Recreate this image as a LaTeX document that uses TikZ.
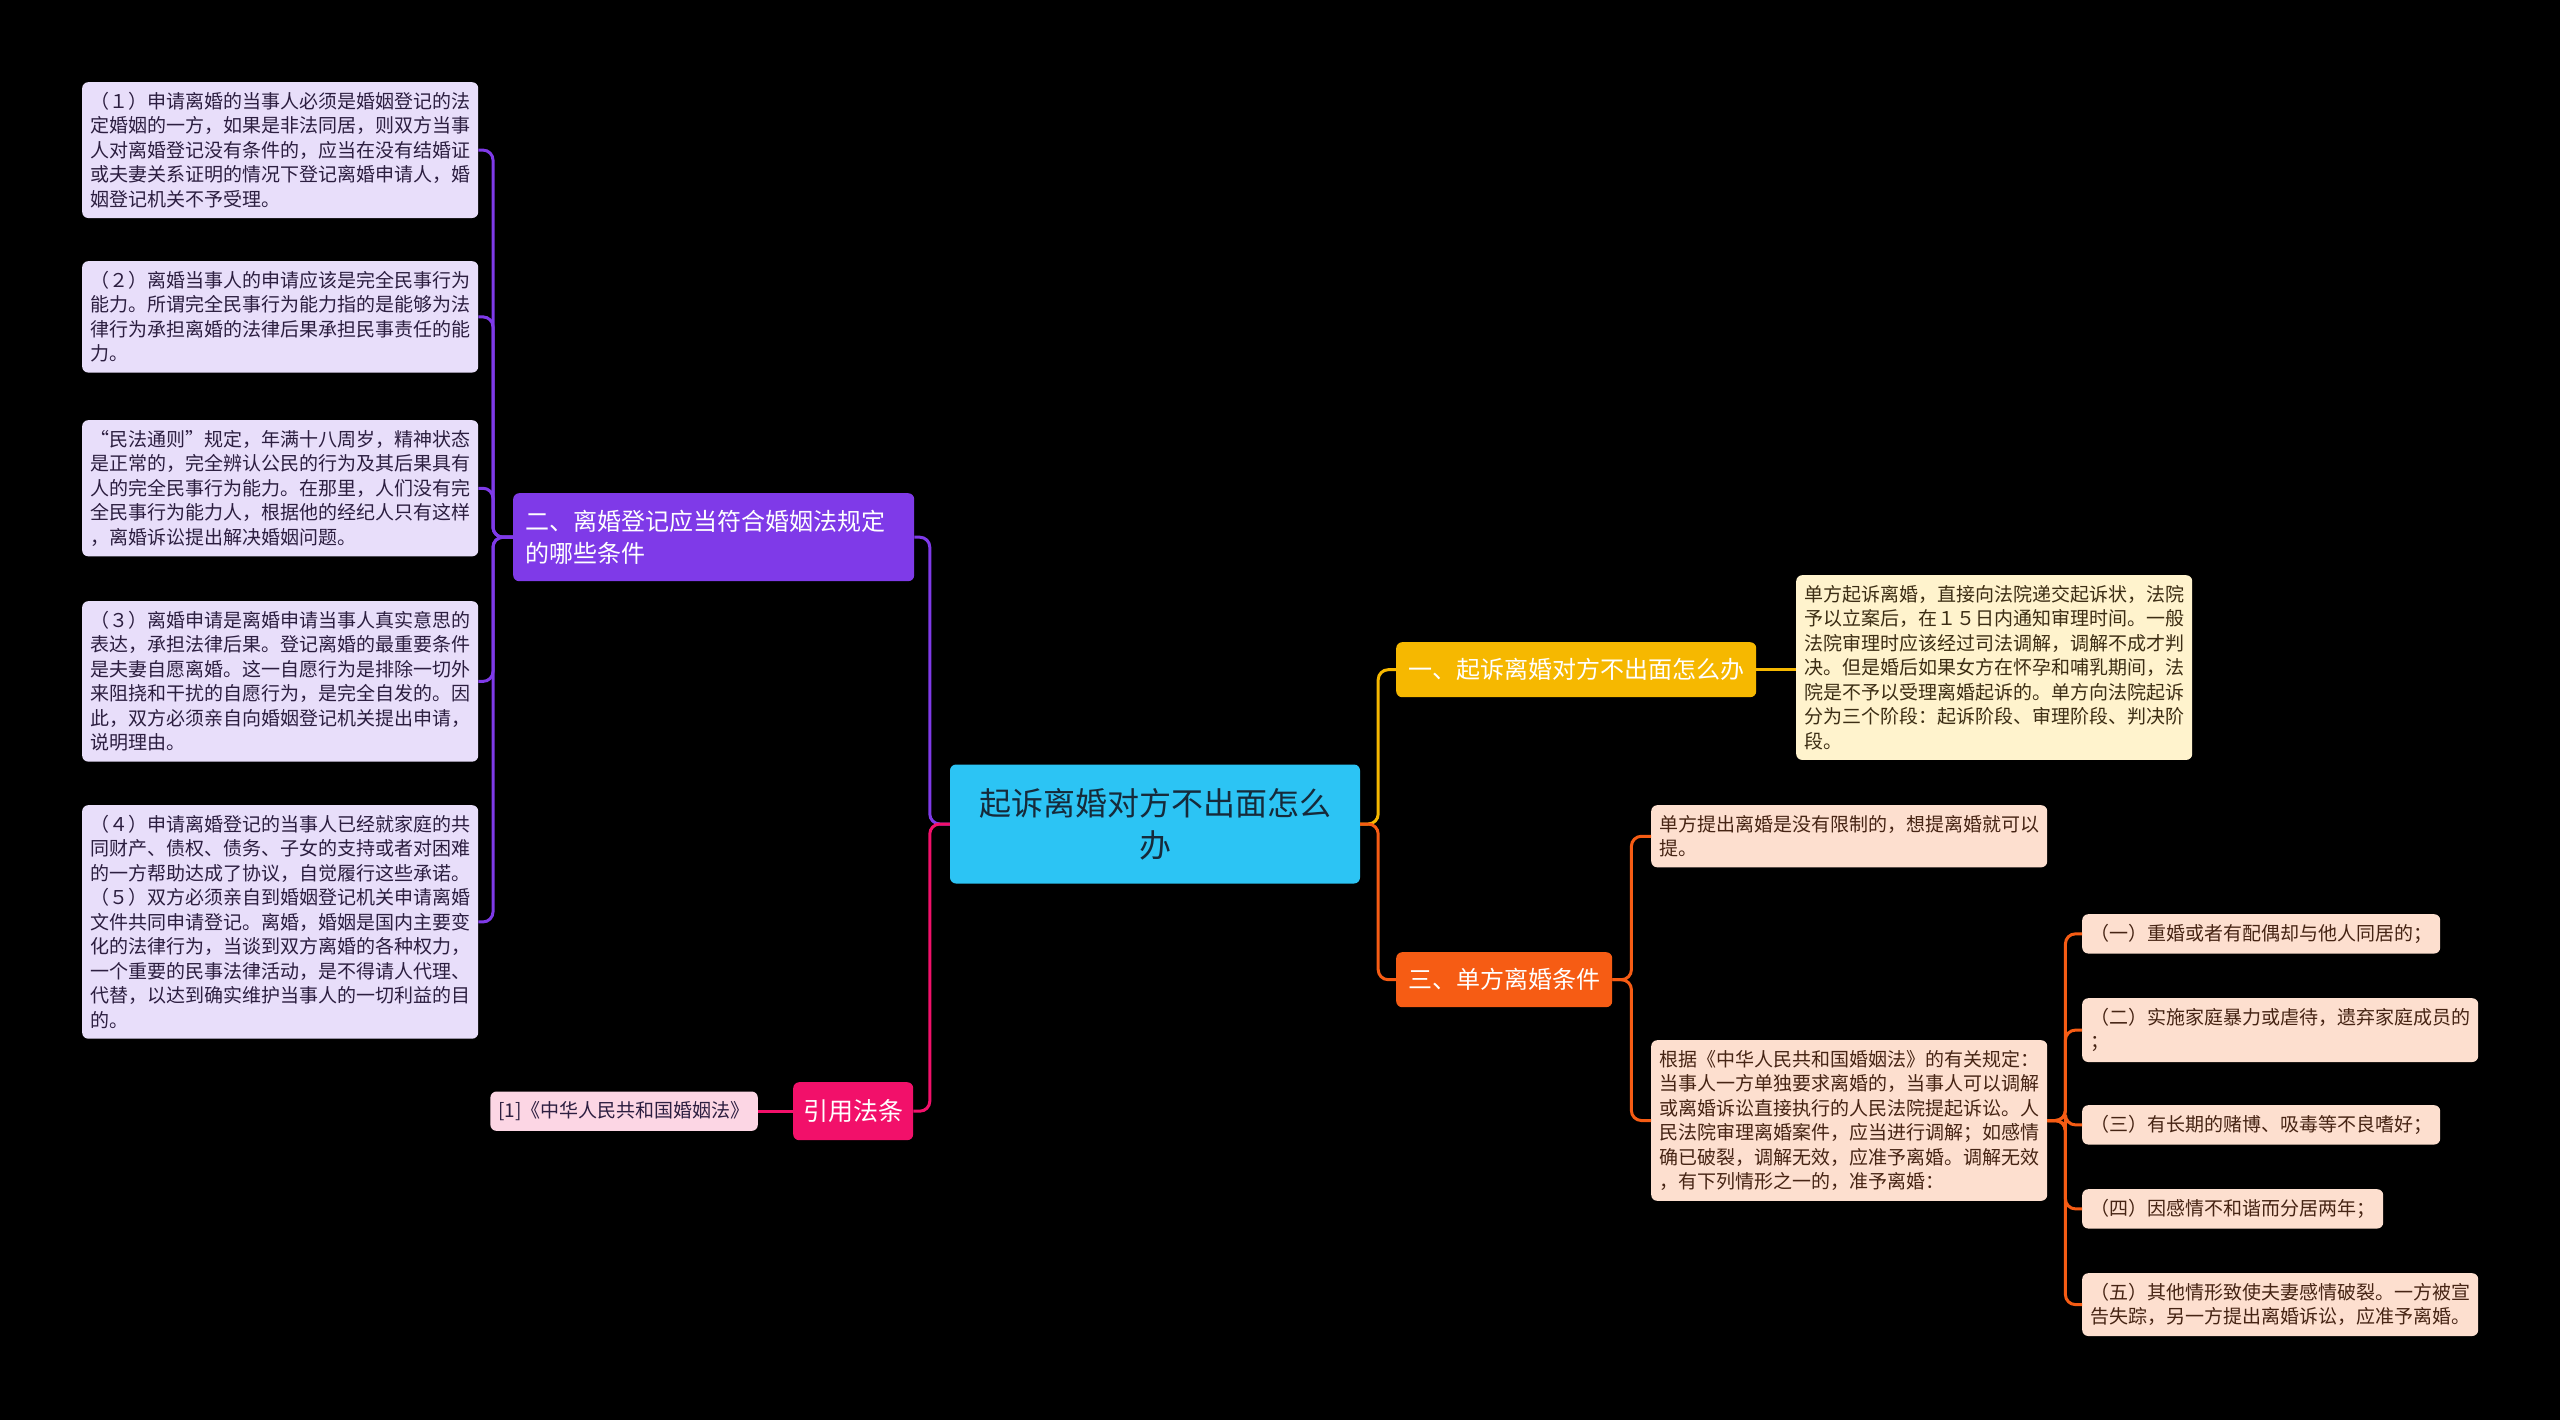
\documentclass[tikz,border=0pt]{standalone}
\usepackage{fontspec}
\usepackage{xcolor}
\usepackage{tikz}
\usetikzlibrary{positioning}
\setmainfont{Noto Sans CJK SC}

\definecolor{rootblue}{RGB}{44,196,244}
\definecolor{rootink}{RGB}{22,42,58}
\definecolor{violetb}{RGB}{127,58,232}
\definecolor{lilac}{RGB}{232,222,250}
\definecolor{lilacink}{RGB}{44,30,64}
\definecolor{rose}{RGB}{242,16,106}
\definecolor{blush}{RGB}{252,214,228}
\definecolor{goldb}{RGB}{246,184,0}
\definecolor{cream}{RGB}{255,243,205}
\definecolor{creamink}{RGB}{60,45,20}
\definecolor{flame}{RGB}{246,92,20}
\definecolor{peach}{RGB}{253,223,207}
\definecolor{peachink}{RGB}{70,36,20}

\begin{document}
\begin{tikzpicture}[x=1pt, y=-1pt,
      rootbox/.style={fill=rootblue, text=rootink, rounded corners=6pt, align=center,
                      minimum width=410pt, minimum height=119pt,
                      font=\fontsize{32}{42}\selectfont},
      branch/.style={fill=#1, text=white, rounded corners=6pt, anchor=north west,
                     inner xsep=12pt, minimum height=55pt,
                     font=\fontsize{24}{32}\selectfont},
      tag/.style={fill=#1, rounded corners=6pt, anchor=north west, align=left,
                  inner xsep=8pt, inner ysep=10pt, font=\fontsize{19}{24.5}\selectfont},
      note/.style={tag=#1, text width=380pt},
      link/.style={draw=#1, line width=3pt, rounded corners=10pt}
    ]
    \fill[black] (0,0) rectangle (2560,1420);
    \useasboundingbox (0,0) rectangle (2560,1420);

    \node[rootbox] (root) at (1155,824) {起诉离婚对方不出面怎么\\办};

    % left side
    \node[branch=violetb, align=left, text width=377pt, minimum height=88pt]
      (two) at (513,493) {二、离婚登记应当符合婚姻法规定\\的哪些条件};
    \node[note=lilac, text=lilacink] (cond1) at (82,82)
      {（１）申请离婚的当事人必须是婚姻登记的法\\定婚姻的一方，如果是非法同居，则双方当事\\人对离婚登记没有条件的，应当在没有结婚证\\或夫妻关系证明的情况下登记离婚申请人，婚\\姻登记机关不予受理。};
    \node[note=lilac, text=lilacink] (cond2) at (82,261)
      {（２）离婚当事人的申请应该是完全民事行为\\能力。所谓完全民事行为能力指的是能够为法\\律行为承担离婚的法律后果承担民事责任的能\\力。};
    \node[note=lilac, text=lilacink] (cond3) at (82,420)
      {“民法通则”规定，年满十八周岁，精神状态\\是正常的，完全辨认公民的行为及其后果具有\\人的完全民事行为能力。在那里，人们没有完\\全民事行为能力人，根据他的经纪人只有这样\\，离婚诉讼提出解决婚姻问题。};
    \node[note=lilac, text=lilacink] (cond4) at (82,601)
      {（３）离婚申请是离婚申请当事人真实意思的\\表达，承担法律后果。登记离婚的最重要条件\\是夫妻自愿离婚。这一自愿行为是排除一切外\\来阻挠和干扰的自愿行为，是完全自发的。因\\此，双方必须亲自向婚姻登记机关提出申请，\\说明理由。};
    \node[note=lilac, text=lilacink] (cond5) at (82,805)
      {（４）申请离婚登记的当事人已经就家庭的共\\同财产、债权、债务、子女的支持或者对困难\\的一方帮助达成了协议，自觉履行这些承诺。\\（５）双方必须亲自到婚姻登记机关申请离婚\\文件共同申请登记。离婚，婚姻是国内主要变\\化的法律行为，当谈到双方离婚的各种权力，\\一个重要的民事法律活动，是不得请人代理、\\代替，以达到确实维护当事人的一切利益的目\\的。};

    \node[branch=rose, inner xsep=10pt, minimum height=58pt, font=\fontsize{25}{32}\selectfont]
      (cite) at (793,1082) {引用法条};
    \node[tag=blush, text=lilacink, anchor=east, left=35pt of cite] (law)
      {[1]《中华人民共和国婚姻法》};

    % right side
    \node[branch=goldb] (one) at (1396,642) {一、起诉离婚对方不出面怎么办};
    \node[note=cream, text=creamink] (oneleaf) at (1796,575)
      {单方起诉离婚，直接向法院递交起诉状，法院\\予以立案后，在１５日内通知审理时间。一般\\法院审理时应该经过司法调解，调解不成才判\\决。但是婚后如果女方在怀孕和哺乳期间，法\\院是不予以受理离婚起诉的。单方向法院起诉\\分为三个阶段：起诉阶段、审理阶段、判决阶\\段。};

    \node[branch=flame] (three) at (1396,952) {三、单方离婚条件};
    \node[note=peach, text=peachink] (free) at (1651,805)
      {单方提出离婚是没有限制的，想提离婚就可以\\提。};
    \node[note=peach, text=peachink] (rule) at (1651,1040)
      {根据《中华人民共和国婚姻法》的有关规定：\\当事人一方单独要求离婚的，当事人可以调解\\或离婚诉讼直接执行的人民法院提起诉讼。人\\民法院审理离婚案件，应当进行调解；如感情\\确已破裂，调解无效，应准予离婚。调解无效\\，有下列情形之一的，准予离婚：};

    \node[tag=peach, text=peachink] (case1) at (2082,914) {（一）重婚或者有配偶却与他人同居的；};
    \node[tag=peach, text=peachink] (case2) at (2082,998) {（二）实施家庭暴力或虐待，遗弃家庭成员的\\；};
    \node[tag=peach, text=peachink] (case3) at (2082,1105) {（三）有长期的赌博、吸毒等不良嗜好；};
    \node[tag=peach, text=peachink] (case4) at (2082,1189) {（四）因感情不和谐而分居两年；};
    \node[tag=peach, text=peachink] (case5) at (2082,1273)
      {（五）其他情形致使夫妻感情破裂。一方被宣\\告失踪，另一方提出离婚诉讼，应准予离婚。};

    % connectors
    \coordinate (lj) at ([xshift=-20pt]root.west);
    \draw[link=violetb] (root.west) -- (lj) |- (two.east);
    \draw[link=rose] (root.west) -- (lj) |- (cite.east);
    \coordinate (pj) at ([xshift=-20pt]two.west);
    \foreach \b in {1,...,5}
      \draw[link=violetb] (two.west) -- (pj) |- (cond\b.east);
    \draw[link=rose] (cite.west) -- (law.east);

    \coordinate (rj) at ([xshift=18pt]root.east);
    \draw[link=goldb] (root.east) -- (rj) |- (one.west);
    \draw[link=flame] (root.east) -- (rj) |- (three.west);
    \draw[link=goldb] (one.east) -- (one.east -| oneleaf.west);
    \coordinate (tj) at ([xshift=19pt]three.east);
    \draw[link=flame] (three.east) -- (tj) |- (free.west);
    \draw[link=flame] (three.east) -- (tj) |- (rule.west);
    \coordinate (sj) at ([xshift=18pt]rule.east);
    \foreach \c in {1,...,5}
      \draw[link=flame] (rule.east) -- (sj) |- (case\c.west);
  \end{tikzpicture}
\end{document}
